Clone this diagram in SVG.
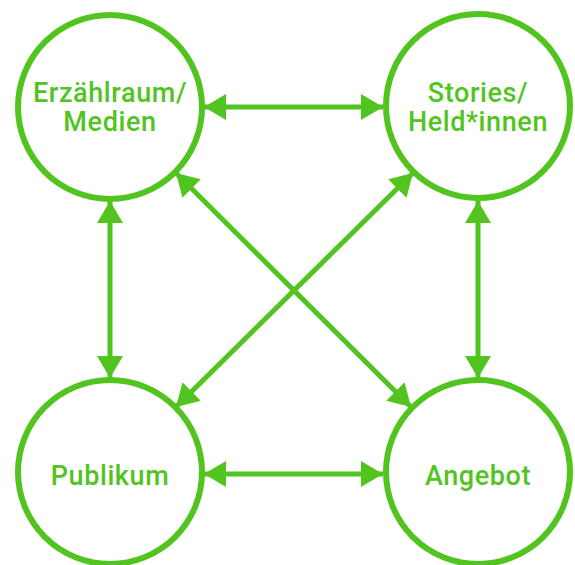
<svg xmlns="http://www.w3.org/2000/svg" width="575" height="565" viewBox="0 0 575 565">
<style>
.node circle{fill:#fff;stroke:#52c41f;stroke-width:6}
.node text{fill:#52c41f;font-family:Roboto,"Liberation Sans",Arial,sans-serif;font-weight:500;font-size:27px;letter-spacing:0.6px;text-anchor:middle}
.conn line{stroke:#52c41f;stroke-width:5}
</style>
<defs>
<marker id="ah" markerWidth="24" markerHeight="26" refX="22" refY="13" orient="auto-start-reverse" markerUnits="userSpaceOnUse">
<path d="M0,0 L22,13 L0,26 Z" fill="#52c41f"/>
</marker>
</defs>
<rect width="575" height="565" fill="#fff"/>
<g class="conn">
<line x1="204" y1="107" x2="383" y2="107" marker-start="url(#ah)" marker-end="url(#ah)"/>
<line x1="204" y1="474" x2="383" y2="474" marker-start="url(#ah)" marker-end="url(#ah)"/>
<line x1="110" y1="201" x2="110" y2="378" marker-start="url(#ah)" marker-end="url(#ah)"/>
<line x1="478" y1="201" x2="478" y2="378" marker-start="url(#ah)" marker-end="url(#ah)"/>
<line x1="176" y1="173" x2="411" y2="407" marker-start="url(#ah)" marker-end="url(#ah)"/>
<line x1="413" y1="173" x2="176" y2="407" marker-start="url(#ah)" marker-end="url(#ah)"/>
</g>
<g id="erzaehlraum" class="node">
<circle cx="110" cy="107" r="92"/>
<text x="110" y="102">Erzählraum/</text>
<text x="110" y="131">Medien</text>
</g>
<g id="stories" class="node">
<circle cx="478" cy="106" r="92"/>
<text x="478" y="102">Stories/</text>
<text x="478" y="131">Held*innen</text>
</g>
<g id="publikum" class="node">
<circle cx="110" cy="472" r="92"/>
<text x="110" y="485">Publikum</text>
</g>
<g id="angebot" class="node">
<circle cx="478" cy="472" r="92"/>
<text x="478" y="485">Angebot</text>
</g>
</svg>
